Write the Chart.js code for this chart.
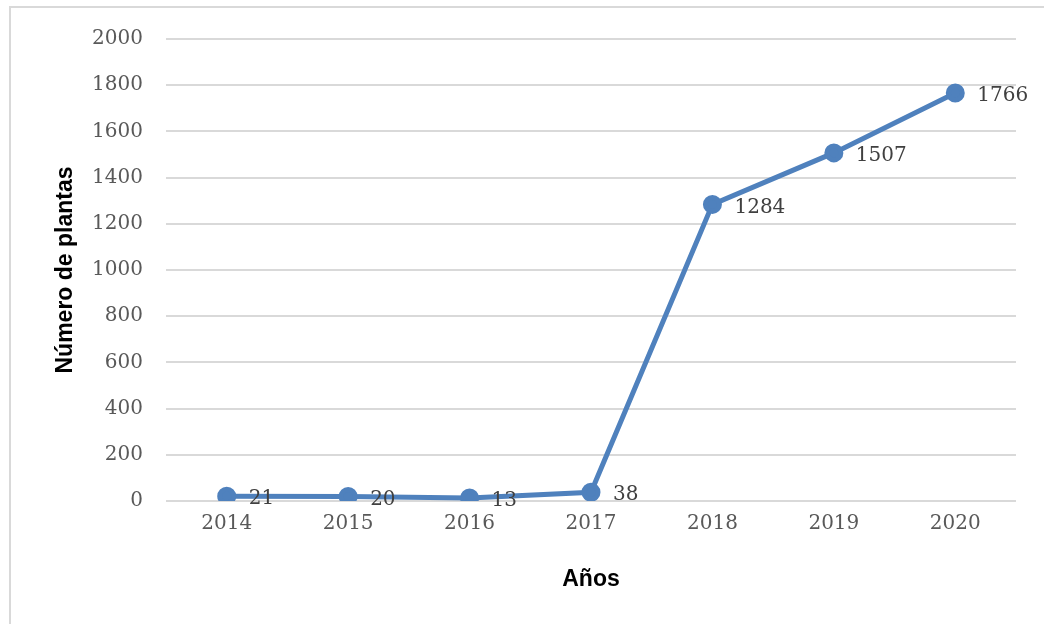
<!DOCTYPE html>
<html>
<head>
<meta charset="utf-8">
<script src="https://cdn.jsdelivr.net/npm/chart.js@4"></script>
<style>
  html, body { margin: 0; padding: 0; background: #fff; overflow: hidden; }
  #frame { position: absolute; left: 9px; top: 6px; width: 1100px; height: 700px; border: 2px solid #d9d9d9; }
  #chart { position: absolute; left: 0; top: 0; }
</style>
</head>
<body>
<div id="frame"></div>
<canvas id="chart" width="1044" height="624"></canvas>
<script>
const years = ['2014', '2015', '2016', '2017', '2018', '2019', '2020'];
const plantas = [21, 20, 13, 38, 1284, 1507, 1766];

// labels to the right of each point
const pointLabels = {
    id: 'pointLabels',
    afterDatasetsDraw(chart) {
        const ctx = chart.ctx;
        const meta = chart.getDatasetMeta(0);
        ctx.save();
        ctx.font = '20px "DejaVu Serif"';
        ctx.fillStyle = '#404040';
        ctx.textAlign = 'left';
        ctx.textBaseline = 'middle';
        meta.data.forEach((pt, i) => {
            ctx.fillText(String(plantas[i]), pt.x + 22, pt.y + 3);
        });
        ctx.restore();
    }
};

new Chart(document.getElementById('chart').getContext('2d'), {
    type: 'line',
    data: {
        labels: years,
        datasets: [{
            data: plantas,
            borderColor: '#4f81bd',
            backgroundColor: '#4f81bd',
            borderWidth: 5,
            pointRadius: 7,
            pointHoverRadius: 7,
            tension: 0
        }]
    },
    options: {
        responsive: false,
        animation: false,
        layout: { padding: { left: 0, right: 28, top: 39, bottom: 0 } },
        plugins: {
            legend: { display: false },
            tooltip: { enabled: false }
        },
        scales: {
            x: {
                offset: true,
                grid: { display: false },
                border: { display: false },
                ticks: { color: '#595959', font: { family: 'DejaVu Serif', size: 20 }, padding: 3 },
                title: {
                    display: true, text: 'Años', color: '#000',
                    font: { family: 'Liberation Sans', size: 23, weight: 'bold' },
                    padding: { top: 0, bottom: 31 }
                },
                afterFit(s) { s.height = 123; }
            },
            y: {
                min: 0, max: 2000,
                ticks: {
                    stepSize: 200, color: '#595959', padding: 23,
                    font: { family: 'DejaVu Serif', size: 20 },
                    callback: v => String(v)
                },
                grid: { color: '#d9d9d9', lineWidth: 2, drawTicks: false },
                border: { display: false },
                title: {
                    display: true, text: 'Número de plantas', color: '#000',
                    font: { family: 'Liberation Sans', size: 23, weight: 'bold' },
                    padding: { top: 52, bottom: 0 }
                },
                afterFit(s) { s.width = 166; }
            }
        }
    },
    plugins: [pointLabels]
});
</script>
</body>
</html>
